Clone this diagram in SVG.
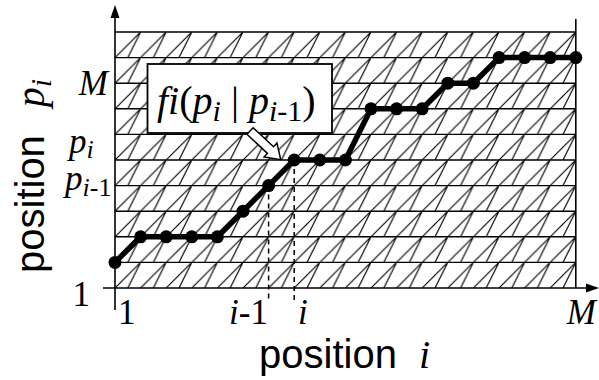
<svg xmlns="http://www.w3.org/2000/svg" width="599" height="380" viewBox="0 0 599 380">
<style>
.ser{font-family:"Liberation Serif","Times New Roman",serif;font-style:italic;fill:#000}
.num{font-family:"Liberation Serif","Times New Roman",serif;font-style:normal;fill:#000}
.sans{font-family:"Liberation Sans",Arial,sans-serif;font-style:normal;fill:#000}
.grid{stroke:#000;stroke-width:1.4;fill:none}
.axis{stroke:#000;stroke-width:1.6;fill:none}
.dash{stroke:#000;stroke-width:1.5;stroke-dasharray:5 4;fill:none}
.track{stroke:#000;stroke-width:5.5;fill:none;stroke-linejoin:round}
</style>
<defs>
<pattern id="hatch" patternUnits="userSpaceOnUse" x="115" y="32" width="25.6" height="25.6">
<path d="M-1 26.6 L26.6 -1 M12.8 25.6 L25.6 0 M12.3 26.6 L13.3 24.6 M25.1 1 L26.1 -1" stroke="#000" stroke-width="1.15" fill="none"/>
</pattern>
</defs>
<g id="grid">
<rect x="115" y="32" width="460.8" height="256" fill="url(#hatch)"/>
<path class="grid" d="M115 32H575.8M115 57.6H575.8M115 83.2H575.8M115 108.8H575.8M115 134.4H575.8M115 160H575.8M115 185.6H575.8M115 211.2H575.8M115 236.8H575.8M115 262.4H575.8"/>
<path class="axis" d="M575.8 19V288"/>
</g>
<g id="axes">
<path class="axis" d="M115 16V310"/>
<polygon points="115,5 110.5,18 119.5,18" fill="#000"/>
<path class="axis" d="M103 288H589"/>
<polygon points="599,288 586,283.5 586,292.5" fill="#000"/>
</g>
<g id="connectors">
<path class="dash" d="M268.6 185.6V300M294.2 160V300"/>
<path class="track" d="M115 262.4L140.6 236.8L217.4 236.8L243 211.2L268.6 185.6L294.2 160L345.4 160L371 108.8L422.2 108.8L447.8 83.2L473.4 83.2L499 57.6L575.8 57.6"/>
</g>
<g id="points" fill="#000">
<circle cx="115" cy="262.4" r="6.5"/>
<circle cx="140.6" cy="236.8" r="6.5"/>
<circle cx="166.2" cy="236.8" r="6.5"/>
<circle cx="191.8" cy="236.8" r="6.5"/>
<circle cx="217.4" cy="236.8" r="6.5"/>
<circle cx="243" cy="211.2" r="6.5"/>
<circle cx="268.6" cy="185.6" r="6.5"/>
<circle cx="294.2" cy="160" r="6.5"/>
<circle cx="319.8" cy="160" r="6.5"/>
<circle cx="345.4" cy="160" r="6.5"/>
<circle cx="371" cy="108.8" r="6.5"/>
<circle cx="396.6" cy="108.8" r="6.5"/>
<circle cx="422.2" cy="108.8" r="6.5"/>
<circle cx="447.8" cy="83.2" r="6.5"/>
<circle cx="473.4" cy="83.2" r="6.5"/>
<circle cx="499" cy="57.6" r="6.5"/>
<circle cx="524.6" cy="57.6" r="6.5"/>
<circle cx="550.2" cy="57.6" r="6.5"/>
<circle cx="575.8" cy="57.6" r="6.5"/>
</g>
<g id="callout">
<rect x="147.5" y="64" width="184.5" height="69" fill="#fff" stroke="#000" stroke-width="1.8"/>
<text class="ser" x="157" y="114" font-size="40">fi<tspan class="num">(</tspan>p<tspan font-size="30" dy="7">i</tspan><tspan class="num" dy="-7"> | </tspan>p<tspan font-size="30" dy="7">i</tspan><tspan class="num" font-size="30">-1</tspan><tspan class="num" dy="-7">)</tspan></text>
<path d="M0 -4.5L28 -4.5L28 -9.5L42 0L28 9.5L28 4.5L0 4.5Z" transform="translate(250,131) rotate(43)" fill="#fff" stroke="#000" stroke-width="1.5"/>
</g>
<g id="ylabels">
<text class="ser" x="108" y="95" font-size="35" text-anchor="end">M</text>
<text class="ser" x="69" y="153" font-size="35">p<tspan font-size="26" dy="5">i</tspan></text>
<text class="ser" x="65" y="190" font-size="35">p<tspan font-size="26" dy="6">i</tspan><tspan class="num" font-size="26">-1</tspan></text>
<text class="num" x="90" y="306" font-size="35" text-anchor="end">1</text>
</g>
<g id="xlabels">
<text class="num" x="118" y="324" font-size="35">1</text>
<text class="ser" x="268" y="324" font-size="35" text-anchor="end">i<tspan class="num">-1</tspan></text>
<text class="ser" x="298" y="324" font-size="35">i</text>
<text class="ser" x="596" y="324" font-size="35" text-anchor="end">M</text>
</g>
<g id="titles">
<text x="259" y="368" font-size="40"><tspan class="sans">position</tspan><tspan class="ser" dx="22">i</tspan></text>
<text transform="translate(44,273) rotate(-90)" font-size="40"><tspan class="sans">position</tspan><tspan class="ser" dx="28">p</tspan><tspan class="ser" font-size="30" dy="7">i</tspan></text>
</g>
</svg>
